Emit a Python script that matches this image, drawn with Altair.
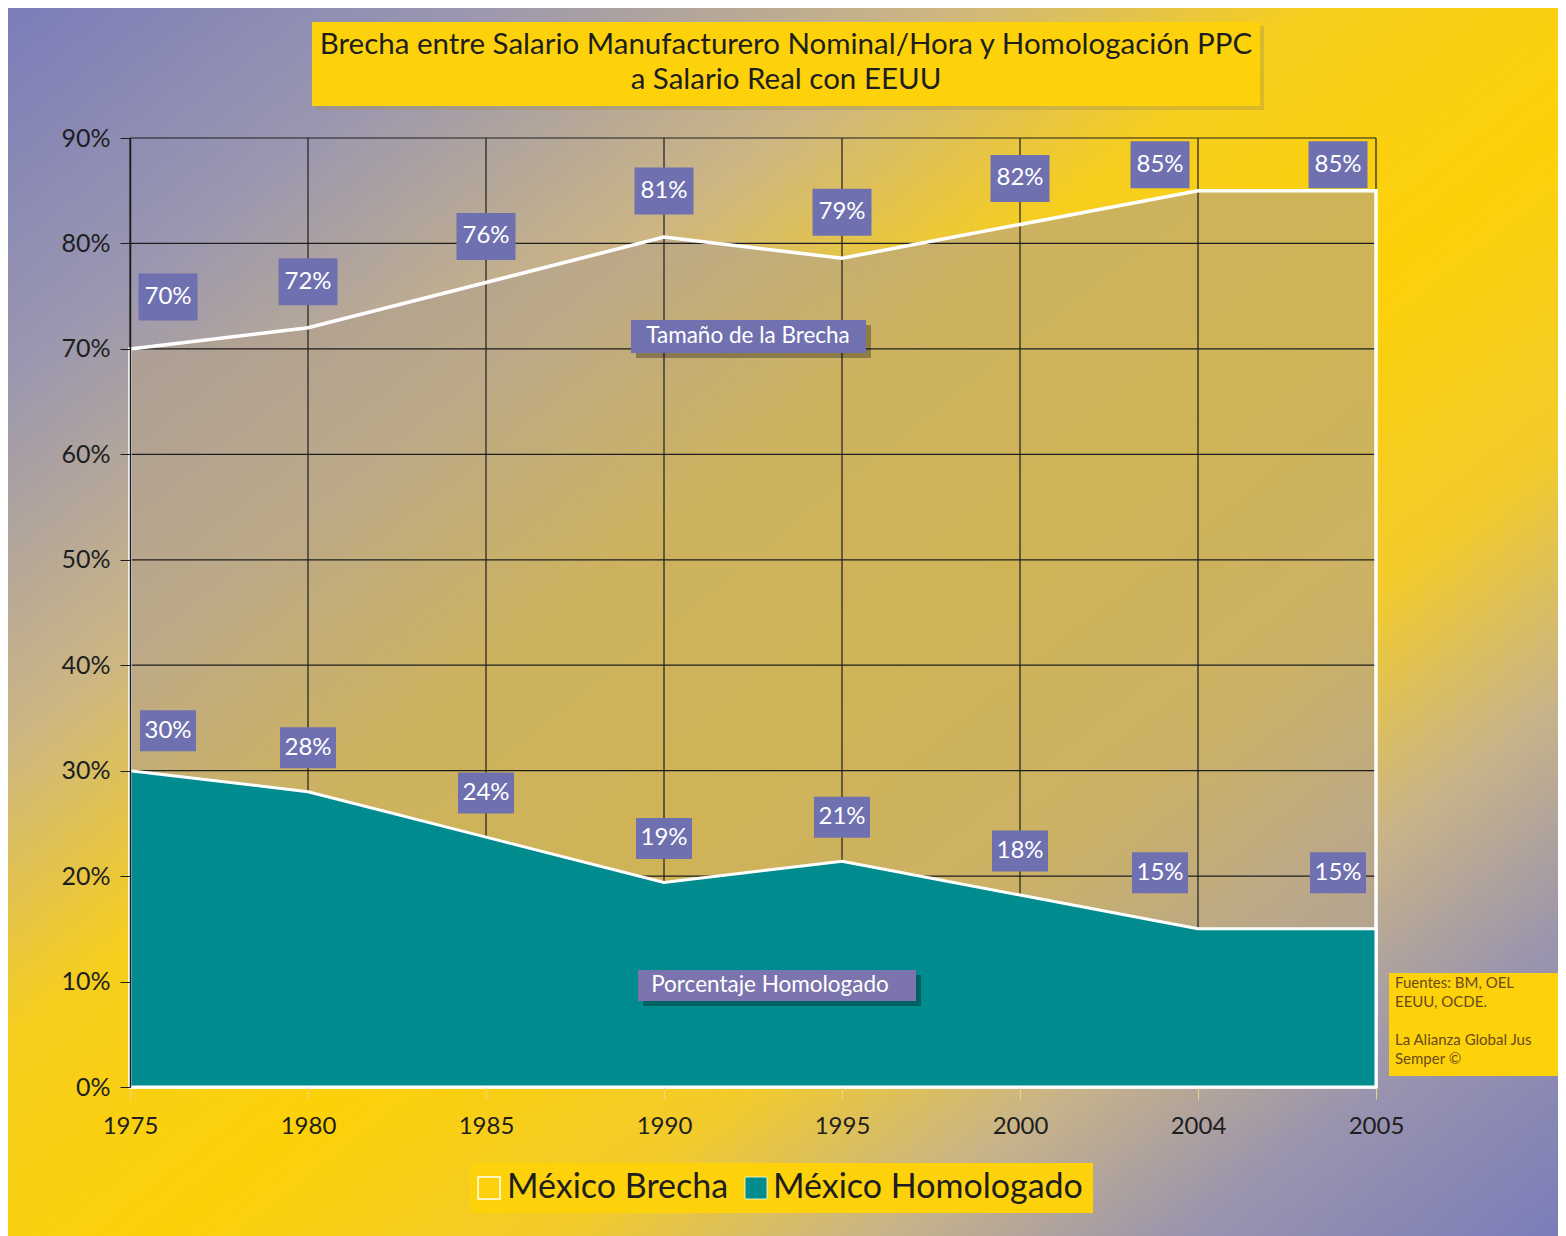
import altair as alt
import pandas as pd

years = ["1975", "1980", "1985", "1990", "1995", "2000", "2004", "2005"]
brecha = [70, 72, 76.3, 80.6, 78.6, 81.8, 85, 85]
homologado = [30, 28, 23.7, 19.4, 21.4, 18.2, 15, 15]
brecha_labels = ["70%", "72%", "76%", "81%", "79%", "82%", "85%", "85%"]
homologado_labels = ["30%", "28%", "24%", "19%", "21%", "18%", "15%", "15%"]
y_ticks = [0, 10, 20, 30, 40, 50, 60, 70, 80, 90]

title_lines = ["Brecha entre Salario Manufacturero Nominal/Hora y Homologación PPC",
               "a Salario Real con EEUU"]
series_names = ["México Brecha", "México Homologado"]
annotations = ["Tamaño de la Brecha", "Porcentaje Homologado"]
source_lines = ["Fuentes: BM, OEL", "EEUU, OCDE.", "", "La Alianza Global Jus", "Semper ©"]

FONT = "Lato"
W, H = 1246, 949
PL, PT, PR, PB = 122, 130, 182, 149
TEAL = "#008c8e"
YELLOW = "#fdd20a"
BOX = "#6f70b0"
DARK = "#1e1e1e"

df = pd.DataFrame({"year": years, "brecha": brecha, "homologado": homologado,
                   "lb": brecha_labels, "lh": homologado_labels})
ticks_df = pd.DataFrame({"tick": y_ticks})
one = pd.DataFrame({"k": [0]})

yscale = alt.Scale(domain=[0, 90], nice=False)
xenc = alt.X("year:O", sort=years, scale=alt.Scale(type="point", padding=0), title=None,
             axis=alt.Axis(labelAngle=0, labelFont=FONT, labelFontSize=24, labelColor=DARK,
                           domain=False, ticks=True, tickSize=12, tickColor="#e6d98a",
                           labelPadding=15, grid=False, zindex=1))
yaxis = alt.Axis(values=y_ticks, labelExpr="datum.value + '%'", labelFont=FONT,
                 labelFontSize=25, labelColor=DARK, domain=True, domainColor=DARK,
                 domainWidth=1.5, tickColor=DARK, tickSize=10, labelPadding=10,
                 grid=False, zindex=1)


def yenc(field):
    return alt.Y(f"{field}:Q", scale=yscale, axis=yaxis, title=None)


def box(x1, y1, x2, y2, fill, **kw):
    return alt.Chart(one).mark_rect(fill=fill, **kw).encode(
        x=alt.value(x1), x2=alt.value(x2), y=alt.value(y1), y2=alt.value(y2))


def label(x, y, text, **kw):
    return alt.Chart(one).mark_text(text=text, font=FONT, baseline="middle", **kw).encode(
        x=alt.value(x), y=alt.value(y))


gradient = {
    "gradient": "linear", "x1": 0, "y1": 0, "x2": 1, "y2": 1,
    "stops": [
        {"offset": 0.0, "color": "#7a7db9"},
        {"offset": 0.15, "color": "#9b97b0"},
        {"offset": 0.3, "color": "#cdb683"},
        {"offset": 0.42, "color": "#f6ce1e"},
        {"offset": 0.55, "color": "#fdd108"},
        {"offset": 0.68, "color": "#f2cb2c"},
        {"offset": 0.78, "color": "#c9b488"},
        {"offset": 0.88, "color": "#9a94ae"},
        {"offset": 1.0, "color": "#7a7db9"},
    ],
}

layers = []
layers.append(box(-PL, -PT, W + PR, H + PB, gradient))

# brecha area fill
layers.append(alt.Chart(df).mark_area(fill="#b0a08c", fillOpacity=0.6, strokeWidth=0).encode(
    x=xenc, y=yenc("brecha")))

# grid
layers.append(alt.Chart(df).mark_rule(color=DARK, strokeWidth=1.2).encode(
    x=xenc, y=alt.value(0), y2=alt.value(H)))
layers.append(alt.Chart(ticks_df).mark_rule(color=DARK, strokeWidth=1.2).encode(
    y=yenc("tick"), x=alt.value(0), x2=alt.value(W)))

# brecha outline and homologado area
layers.append(alt.Chart(df).mark_area(fillOpacity=0, stroke="white", strokeWidth=3.5).encode(
    x=xenc, y=yenc("brecha")))
layers.append(alt.Chart(df).mark_area(fill=TEAL, fillOpacity=1, stroke="white",
                                      strokeWidth=3).encode(x=xenc, y=yenc("homologado")))

# value labels
specs = [
    ("brecha", "lb", 59, 47, [(["1975"], 38, -52), (["1980", "1985", "1990", "1995", "2000"], 0, -46),
                             (["2004", "2005"], -38, -26)]),
    ("homologado", "lh", 56, 41, [(["1975"], 38, -40), (["1980", "1985", "1990", "1995", "2000"], 0, -44),
                                 (["2004", "2005"], -38, -56)]),
]
for field, text_field, bw, bh, groups in specs:
    for yrs, dx, dy in groups:
        base = alt.Chart(df).transform_filter(alt.FieldOneOfPredicate(field="year", oneOf=yrs))
        layers.append(base.mark_rect(width=bw, height=bh, fill=BOX, xOffset=dx, yOffset=dy).encode(
            x=xenc, y=yenc(field)))
        layers.append(base.mark_text(font=FONT, fontSize=24, color="white", dx=dx, dy=dy,
                                     baseline="middle", align="center").encode(
            x=xenc, y=yenc(field), text=f"{text_field}:N"))

# annotation boxes
layers.append(box(506, 187, 741, 220, "#000000", opacity=0.3))
layers.append(box(501, 182, 736, 215, "#7271b0"))
layers.append(label(618, 198, annotations[0], fontSize=22.5, color="white", align="center"))
layers.append(box(513, 837, 791, 868, "#000000", opacity=0.3))
layers.append(box(508, 832, 786, 863, "#7b74ae"))
layers.append(label(640, 847, annotations[1], fontSize=22.5, color="white", align="center"))

# title
layers.append(box(186, -112, 1134, -28, "#a08f4a", opacity=0.35))
layers.append(box(182, -116, 1130, -32, YELLOW))
layers.append(label(656, -93, title_lines[0], fontSize=29.5, color=DARK, align="center"))
layers.append(label(656, -58, title_lines[1], fontSize=29.5, color=DARK, align="center"))

# legend
layers.append(box(340, 1025, 963, 1075, YELLOW))
layers.append(box(348, 1039, 370, 1061, YELLOW, stroke="white", strokeWidth=1.5))
layers.append(label(377, 1050, series_names[0], fontSize=34, color=DARK, align="left"))
layers.append(box(615, 1039, 637, 1061, TEAL, stroke="#e8f0c0", strokeWidth=1))
layers.append(label(643, 1050, series_names[1], fontSize=34, color=DARK, align="left"))

# sources
layers.append(box(1259, 835, 1428, 938, YELLOW))
for i, line in enumerate(source_lines):
    if line:
        layers.append(label(1265, 845 + 19 * i, line, fontSize=15, color="#6b4a1a", align="left"))

chart = alt.layer(*layers).properties(
    width=W, height=H,
    padding={"left": PL, "top": PT, "right": PR, "bottom": PB},
    autosize=alt.AutoSizeParams(type="none"),
).configure_view(stroke=None).configure(background="white")

chart.save("out.html", embed_options={"renderer": "svg", "actions": False})
